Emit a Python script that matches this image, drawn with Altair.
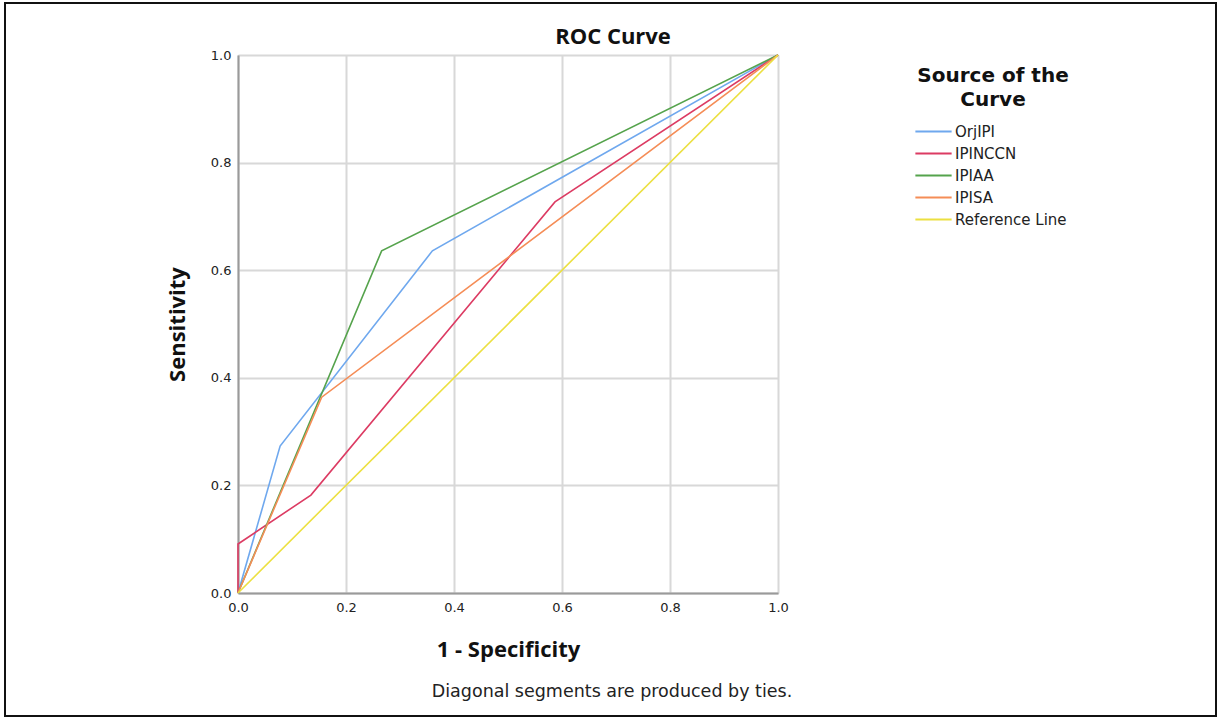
import altair as alt
import pandas as pd

series = ["OrjIPI", "IPINCCN", "IPIAA", "IPISA", "Reference Line"]
colors = ["#6fa8ee", "#dc3b63", "#55a34c", "#f58d57", "#ece041"]

orjipi_x = [0.0, 0.078, 0.36, 1.0]
orjipi_y = [0.0, 0.273, 0.636, 1.0]
ipinccn_x = [0.0, 0.0, 0.135, 0.587, 1.0]
ipinccn_y = [0.0, 0.091, 0.182, 0.727, 1.0]
ipiaa_x = [0.0, 0.266, 1.0]
ipiaa_y = [0.0, 0.636, 1.0]
ipisa_x = [0.0, 0.155, 1.0]
ipisa_y = [0.0, 0.364, 1.0]
ref_x = [0.0, 1.0]
ref_y = [0.0, 1.0]

tick_values = [0.0, 0.2, 0.4, 0.6, 0.8, 1.0]
chart_title = "ROC Curve"
note = "Diagonal segments are produced by ties."

rows = []
for name, xs, ys in [
    ("OrjIPI", orjipi_x, orjipi_y),
    ("IPINCCN", ipinccn_x, ipinccn_y),
    ("IPIAA", ipiaa_x, ipiaa_y),
    ("IPISA", ipisa_x, ipisa_y),
    ("Reference Line", ref_x, ref_y),
]:
    for i, (x, y) in enumerate(zip(xs, ys)):
        rows.append({"series": name, "fpr": x, "tpr": y, "step": i})
df = pd.DataFrame(rows)

label_font = "DejaVu Sans"
title_font = "Open Sans"

lines = alt.Chart(df).mark_line(strokeWidth=1.6).encode(
    x=alt.X("fpr:Q", scale=alt.Scale(domain=[0, 1], nice=False),
            axis=alt.Axis(values=tick_values, format=".1f", title="1 - Specificity",
                          labelFont=label_font, labelFontSize=13, labelColor="#222222",
                          labelPadding=8, labelFlush=False, ticks=False,
                          domainColor="#9a9a9a", domainWidth=2,
                          gridColor="#d8d8d8", gridWidth=2, titleFont=title_font,
                          titleFontSize=22, titleFontWeight="bold", titleColor="#111111",
                          titlePadding=25)),
    y=alt.Y("tpr:Q", scale=alt.Scale(domain=[0, 1], nice=False),
            axis=alt.Axis(values=tick_values, format=".1f", title="Sensitivity",
                          labelFont=label_font, labelFontSize=13, labelColor="#222222",
                          labelPadding=7, labelFlush=False, ticks=False,
                          domainColor="#9a9a9a", domainWidth=2,
                          gridColor="#d8d8d8", gridWidth=2, titleFont=title_font,
                          titleFontSize=22, titleFontWeight="bold", titleColor="#111111",
                          titlePadding=21)),
    color=alt.Color("series:N", scale=alt.Scale(domain=series, range=colors),
                    legend=alt.Legend(orient="none", legendX=679, legendY=11,
                                      title=["Source of the", "Curve"],
                                      titleFont=label_font, titleFontSize=20,
                                      titleFontWeight="bold", titleColor="#111111",
                                      titleAnchor="middle", titleAlign="center",
                                      titleLineHeight=24, titlePadding=8,
                                      labelFont=label_font, labelFontSize=15,
                                      labelColor="#222222", symbolType="M-1.48,0H1.48",
                                      symbolStrokeWidth=2, symbolSize=600,
                                      rowPadding=-2, labelOffset=8)),
    order=alt.Order("step:Q"),
    detail="series:N",
)

title_text = alt.Chart(pd.DataFrame({"t": [chart_title]})).mark_text(
    font=title_font, fontSize=22, fontWeight="bold", color="#111111",
    align="center", baseline="middle"
).encode(x=alt.value(375), y=alt.value(-18), text="t:N")

footnote = alt.Chart(pd.DataFrame({"t": [note]})).mark_text(
    font=label_font, fontSize=17.5, color="#222222", align="center", baseline="middle"
).encode(x=alt.value(374), y=alt.value(637), text="t:N")

frame = alt.Chart(pd.DataFrame({"a": [0]})).mark_rect(
    fill="transparent", stroke="#111111", strokeWidth=2
).encode(x=alt.value(-233), x2=alt.value(978), y=alt.value(-52), y2=alt.value(661))

chart = alt.layer(frame, lines, title_text, footnote).properties(
    width=540, height=538,
    autosize=alt.AutoSizeParams(type="none"),
    padding={"left": 238, "top": 55, "right": 441, "bottom": 127},
).configure_view(stroke=None).configure(background="white")

chart.save("out.html", embed_options={"renderer": "svg", "actions": False})
